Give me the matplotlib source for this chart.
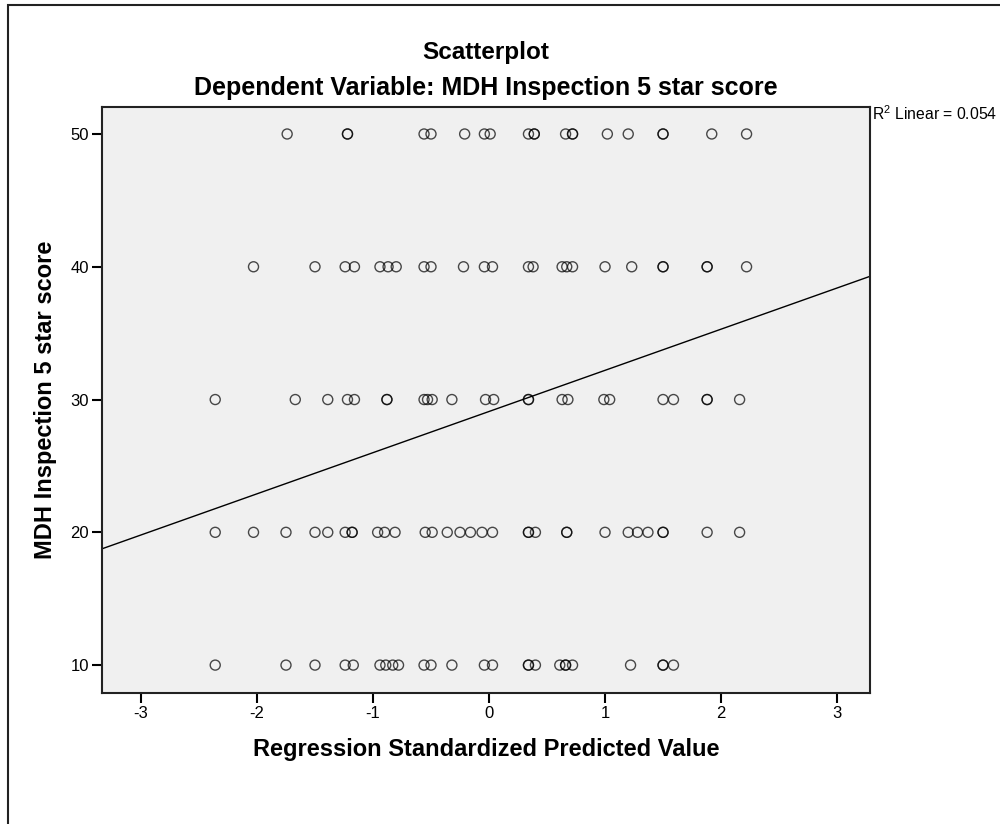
import numpy as np
import matplotlib
matplotlib.use("Agg")
import matplotlib.pyplot as plt
from matplotlib.patches import Rectangle

plt.rcParams.update({
    "font.family": ["Liberation Sans", "DejaVu Sans"],
    "mathtext.fontset": "custom",
    "mathtext.rm": "Liberation Sans",
    "axes.unicode_minus": False,
})

# predicted values (standardized) per score level
x_score_10 = [-2.36, -1.75, -1.50, -1.24, -1.17, -0.94, -0.89, -0.83, -0.78, -0.56, -0.50,
              -0.32, -0.04, 0.03, 0.34, 0.34, 0.40, 0.61, 0.66, 0.66, 0.72, 1.22, 1.50, 1.50, 1.59]
x_score_20 = [-2.36, -2.03, -1.75, -1.50, -1.39, -1.24, -1.18, -1.18, -0.96, -0.90, -0.81,
              -0.55, -0.49, -0.36, -0.25, -0.16, -0.06, 0.03, 0.34, 0.34, 0.40, 0.67, 0.67,
              1.00, 1.20, 1.28, 1.37, 1.50, 1.50, 1.88, 2.16]
x_score_30 = [-2.36, -1.67, -1.39, -1.22, -1.16, -0.88, -0.88, -0.56, -0.53, -0.49, -0.32,
              -0.03, 0.04, 0.34, 0.34, 0.63, 0.68, 0.99, 1.04, 1.50, 1.59, 1.88, 1.88, 2.16]
x_score_40 = [-2.03, -1.50, -1.24, -1.16, -0.94, -0.87, -0.80, -0.56, -0.50, -0.22, -0.04,
              0.03, 0.34, 0.38, 0.63, 0.67, 0.72, 1.00, 1.23, 1.50, 1.50, 1.88, 1.88, 2.22]
x_score_50 = [-1.74, -1.22, -1.22, -0.56, -0.50, -0.21, -0.04, 0.01, 0.34, 0.39, 0.39,
              0.66, 0.72, 0.72, 1.02, 1.20, 1.50, 1.50, 1.92, 2.22]
score_levels = [10, 20, 30, 40, 50]

# fit line
fit_intercept = 29.1
fit_slope = 3.1
r2_text = "R$^{2}$ Linear = 0.054"

x_ticks = [-3, -2, -1, 0, 1, 2, 3]
y_ticks = [10, 20, 30, 40, 50]
xlim = (-3.336, 3.284)
ylim = (7.9, 52.03)

fig = plt.figure(figsize=(10, 8.24), dpi=100)
fig.patch.set_facecolor("white")

# outer frame
fig.patches.append(Rectangle((0.008, -0.02), 1.1, 1.014, transform=fig.transFigure,
                             fill=False, edgecolor="#222222", linewidth=1.5))

ax = fig.add_axes([0.102, 0.159, 0.768, 0.7111])
ax.set_facecolor("#f0f0f0")

all_x = [x_score_10, x_score_20, x_score_30, x_score_40, x_score_50]
for level, xs in zip(score_levels, all_x):
    ax.scatter(xs, [level] * len(xs), s=52, facecolors="none", edgecolors="black",
               linewidths=1.0, alpha=0.7, zorder=3)

line_x = np.array(xlim)
ax.plot(line_x, fit_intercept + fit_slope * line_x, color="black", linewidth=1.0, zorder=2)

ax.set_xlim(xlim)
ax.set_ylim(ylim)
ax.set_xticks(x_ticks)
ax.set_yticks(y_ticks)
ax.tick_params(direction="out", length=7.5, width=1.5, labelsize=12, pad=2, colors="black")
for s in ax.spines.values():
    s.set_color("#222222")
    s.set_linewidth(1.5)

ax.set_xlabel("Regression Standardized Predicted Value", fontsize=17, fontweight="bold")
ax.set_ylabel("MDH Inspection 5 star score", fontsize=17, fontweight="bold")
ax.xaxis.set_label_coords(0.5, -0.076)
ax.yaxis.set_label_coords(-0.058, 0.5)

fig.text(0.486, 1 - 52 / 824, "Scatterplot", ha="center", va="center",
         fontsize=17.5, fontweight="bold")
fig.text(0.486, 1 - 88 / 824, "Dependent Variable: MDH Inspection 5 star score",
         ha="center", va="center", fontsize=18, fontweight="bold")
fig.text(0.872, 1 - 114 / 824, r2_text, ha="left", va="center", fontsize=11.3)

fig.savefig("out.png", dpi=100)
